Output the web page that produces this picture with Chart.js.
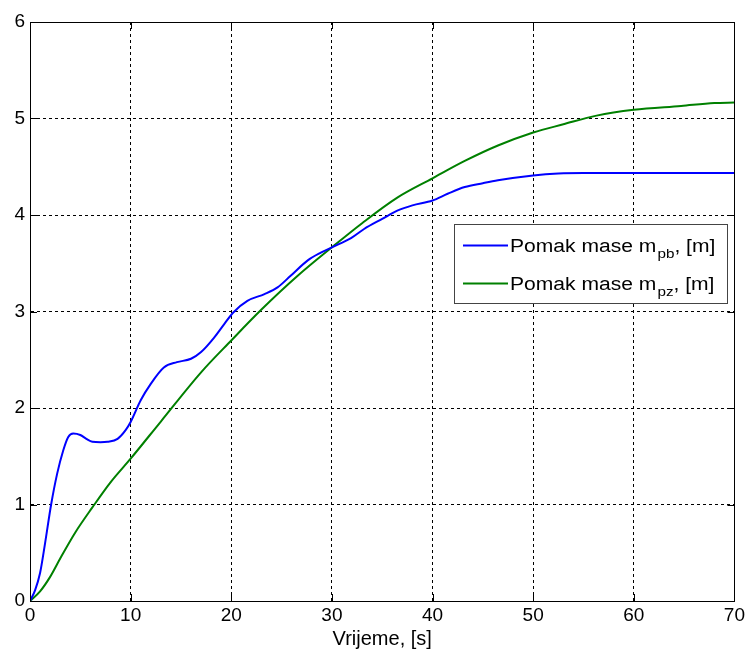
<!DOCTYPE html>
<html>
<head>
<meta charset="utf-8">
<script src="https://cdn.jsdelivr.net/npm/chart.js@4/dist/chart.umd.min.js"></script>
<style>
  html, body { margin: 0; padding: 0; background: #fff; }
  #wrap { width: 748px; height: 653px; }
</style>
</head>
<body>
<div id="wrap"><canvas id="c" width="748" height="653"></canvas></div>
<script>
// pomak mase m_pb (plava)
const timeB = [0, 0.5, 1.0, 1.5, 2.1, 2.7, 3.3, 3.8, 4.3, 5.0, 5.6, 6.2, 7.0, 7.7, 8.7, 9.5, 10, 11, 12, 13.3, 14.6, 16, 17, 18.3, 19.3, 20.2, 21.6, 23.3, 24.6, 25.9, 27.6, 28.9, 30, 31.9, 33.2, 35, 36.5, 38, 40, 41.5, 43.2, 45, 46.5, 50, 52.5, 55, 70];
const posB = [0, 0.11, 0.29, 0.6, 1.0, 1.32, 1.56, 1.70, 1.735, 1.72, 1.68, 1.65, 1.645, 1.65, 1.68, 1.77, 1.855, 2.08, 2.25, 2.42, 2.475, 2.51, 2.58, 2.73, 2.87, 2.99, 3.11, 3.18, 3.25, 3.37, 3.53, 3.61, 3.665, 3.76, 3.855, 3.96, 4.045, 4.10, 4.15, 4.22, 4.29, 4.33, 4.36, 4.41, 4.43, 4.435, 4.435];

// pomak mase m_pz (zelena)
const timeZ = [0, 1, 2, 3, 4.5, 6.2, 8, 10, 13, 17, 20, 23, 26.6, 30, 33, 36.5, 40, 43.2, 46.5, 50, 53, 56.3, 60, 64.7, 68, 70];
const posZ = [0, 0.1, 0.25, 0.44, 0.71, 0.97, 1.23, 1.475, 1.86, 2.37, 2.70, 3.02, 3.37, 3.665, 3.915, 4.18, 4.38, 4.56, 4.72, 4.855, 4.94, 5.03, 5.09, 5.13, 5.16, 5.165];

const legendNames = ["Pomak mase m", "Pomak mase m"];
const legendSubs = ["pb", "pz"];
const legendTail = [", [m]", ", [m]"];
const xTitle = "Vrijeme, [s]";

const FONT = "'Liberation Sans', Arial, sans-serif";

const toPoints = (xs, ys) => xs.map((x, i) => ({ x: x, y: ys[i] }));

// okvir + kratke crtice prema unutra (MATLAB stil)
const boxPlugin = {
  id: "box",
  afterDatasetsDraw(chart) {
    const { ctx, chartArea: a, scales } = chart;
    ctx.save();
    ctx.strokeStyle = "#000";
    ctx.lineWidth = 1;
    ctx.setLineDash([]);
    ctx.beginPath();
    scales.x.ticks.forEach(t => {
      const px = Math.round(scales.x.getPixelForValue(t.value)) + 0.5;
      ctx.moveTo(px, a.bottom); ctx.lineTo(px, a.bottom - 7);
      ctx.moveTo(px, a.top); ctx.lineTo(px, a.top + 7);
    });
    scales.y.ticks.forEach(t => {
      const py = Math.round(scales.y.getPixelForValue(t.value)) + 0.5;
      ctx.moveTo(a.left, py); ctx.lineTo(a.left + 7, py);
      ctx.moveTo(a.right, py); ctx.lineTo(a.right - 7, py);
    });
    ctx.stroke();
    ctx.strokeRect(Math.round(a.left) + 0.5, Math.round(a.top) + 0.5,
                   Math.round(a.right - a.left), Math.round(a.bottom - a.top));
    ctx.restore();
  }
};

// legenda sa indeksima (tekst malo razvučen kao na slici)
const legendPlugin = {
  id: "subLegend",
  afterDraw(chart) {
    const { ctx } = chart;
    const bx = 454, by = 224, bw = 273, bh = 79;
    const sx = 1.17;
    ctx.save();
    ctx.fillStyle = "#fff";
    ctx.fillRect(bx, by, bw, bh);
    ctx.strokeStyle = "#444";
    ctx.lineWidth = 1;
    ctx.strokeRect(bx + 0.5, by + 0.5, bw, bh);
    const rows = [245.5, 283.5];
    chart.data.datasets.forEach((ds, i) => {
      const y = rows[i];
      ctx.strokeStyle = ds.borderColor;
      ctx.lineWidth = 2;
      ctx.beginPath();
      ctx.moveTo(463, y); ctx.lineTo(508, y);
      ctx.stroke();

      ctx.save();
      ctx.translate(510, y + 6.5);
      ctx.scale(sx, 1);
      ctx.fillStyle = "#000";
      ctx.textBaseline = "alphabetic";
      let x = 0;
      ctx.font = "18px " + FONT;
      ctx.fillText(legendNames[i], x, 0);
      x += ctx.measureText(legendNames[i]).width + 1;
      ctx.font = "13px " + FONT;
      ctx.fillText(legendSubs[i], x, 6);
      x += ctx.measureText(legendSubs[i]).width;
      ctx.font = "18px " + FONT;
      ctx.fillText(legendTail[i], x, 0);
      ctx.restore();
    });
    ctx.restore();
  }
};

new Chart(document.getElementById("c"), {
  type: "line",
  data: {
    datasets: [
      {
        label: "Pomak mase m_pb, [m]",
        data: toPoints(timeB, posB),
        borderColor: "#0000ff",
        borderWidth: 2,
        pointRadius: 0,
        cubicInterpolationMode: "monotone",
        fill: false
      },
      {
        label: "Pomak mase m_pz, [m]",
        data: toPoints(timeZ, posZ),
        borderColor: "#008000",
        borderWidth: 2,
        pointRadius: 0,
        cubicInterpolationMode: "monotone",
        fill: false
      }
    ]
  },
  options: {
    responsive: false,
    animation: false,
    layout: { padding: { top: 22, right: 13, left: 0, bottom: 0 } },
    plugins: {
      legend: { display: false },
      tooltip: { enabled: false }
    },
    scales: {
      x: {
        type: "linear",
        min: 0,
        max: 70,
        ticks: { stepSize: 10, color: "#000", padding: 3, font: { family: FONT, size: 19 } },
        grid: { color: "#000", lineWidth: 1, drawTicks: false },
        border: { display: true, color: "#000", dash: [3, 3] },
        title: { display: true, text: xTitle, color: "#000", padding: { top: 0, bottom: 2 }, font: { family: FONT, size: 20 } },
        afterFit(s) { s.height = 52; }
      },
      y: {
        min: 0,
        max: 6,
        ticks: { stepSize: 1, color: "#000", padding: 5, font: { family: FONT, size: 19 } },
        grid: { color: "#000", lineWidth: 1, drawTicks: false },
        border: { display: true, color: "#000", dash: [3, 3] },
        afterFit(s) { s.width = 30; }
      }
    }
  },
  plugins: [boxPlugin, legendPlugin]
});
</script>
</body>
</html>
